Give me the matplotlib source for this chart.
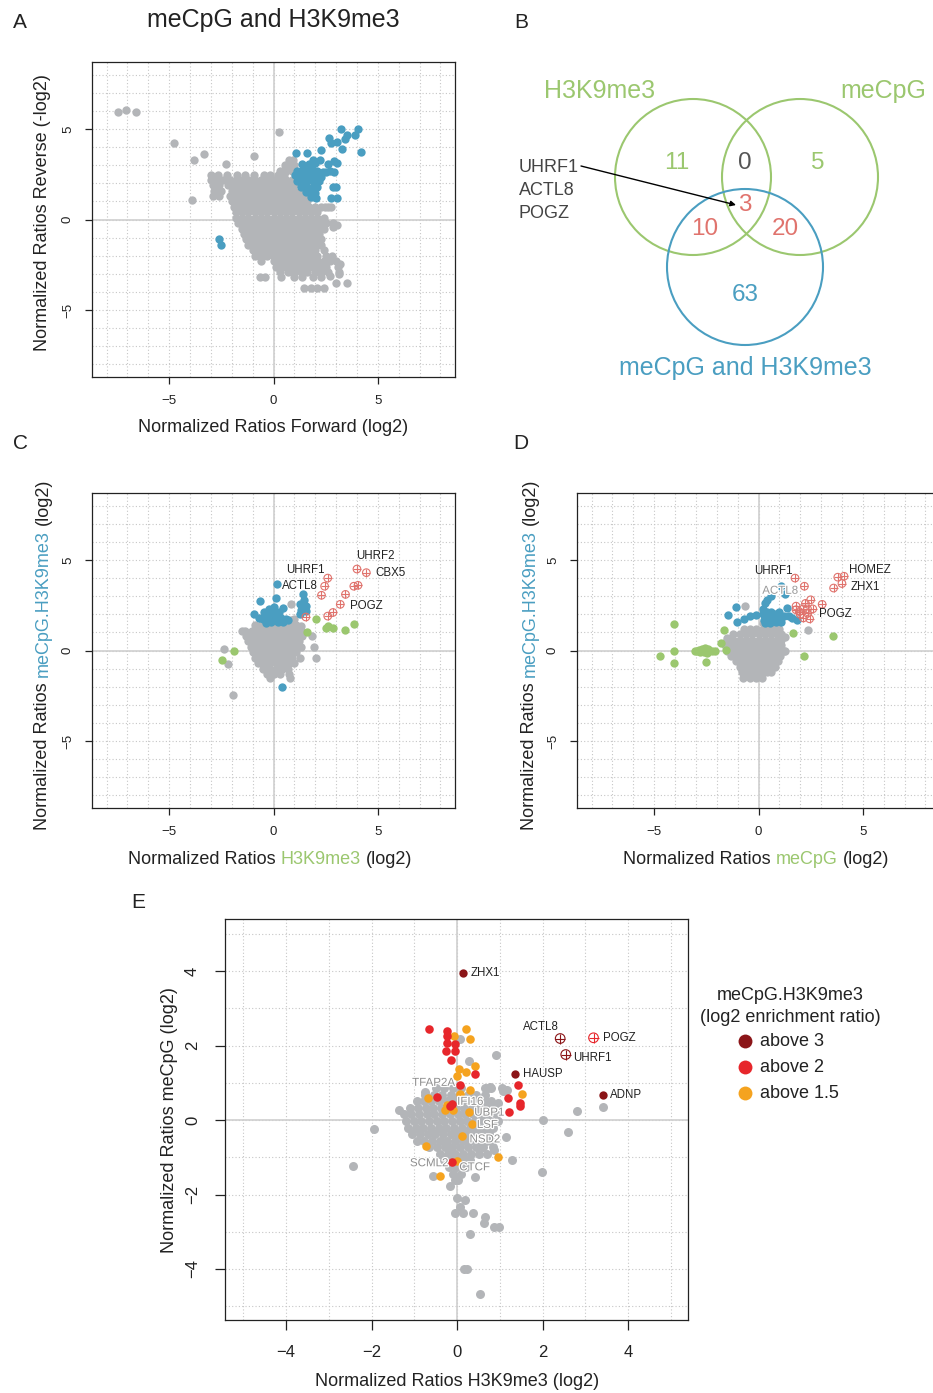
import matplotlib
matplotlib.use("Agg")
import matplotlib.pyplot as plt
import matplotlib.patheffects as pe
from matplotlib.patches import Circle

plt.rcParams["font.family"] = ["Liberation Sans", "DejaVu Sans"]

W, H = 933, 1393

GRAY = "#b3b5b8"
BLUE = "#4a9ec1"
GREEN = "#9bc76f"
RED = "#e0736d"
DARKRED = "#8b1518"
BRIGHT = "#e7262b"
ORANGE = "#f5a31f"
INK = "#222222"

# ---------------- panel A: forward vs reverse ----------------
a_gray_rows = [
    (3.3, [0.75, 0.95]),
    (3.0, [0.55, 0.8, 1.0]),
    (2.7, [0.3, 0.6, 0.9]),
    (2.45, [-3.0, -2.65, -2.25, -1.75, -1.35, -0.95, -0.45, -0.15, 0.2, 0.5]),
    (2.2, [-3.0, -2.7, -2.4, -2.1, -1.8, -1.5, -1.2, -0.9, -0.6, -0.3, 0.0, 0.3, 0.6, 0.9]),
    (1.9, [-2.9, -2.6, -2.2, -1.9, -1.6, -1.3, -1.0, -0.7, -0.4, -0.1, 0.2, 0.5, 0.8, 1.0]),
    (1.6, [-2.85, -2.5, -2.0, -1.7, -1.4, -1.1, -0.8, -0.5, -0.2, 0.1, 0.4, 0.7, 1.0, 1.3]),
    (1.3, [-2.9, -2.6, -2.1, -1.8, -1.5, -1.2, -0.9, -0.6, -0.3, 0.0, 0.3, 0.6, 0.9, 1.2, 1.5]),
    (1.0, [-2.0, -1.7, -1.4, -1.1, -0.8, -0.5, -0.2, 0.1, 0.4, 0.7, 1.0, 1.3, 1.6]),
    (0.7, [-1.9, -1.6, -1.3, -1.0, -0.7, -0.4, -0.1, 0.2, 0.5, 0.8, 1.1, 1.4, 1.7, 2.0, 2.3, 2.6]),
    (0.4, [-1.8, -1.5, -1.2, -0.9, -0.6, -0.3, 0.0, 0.3, 0.6, 0.9, 1.2, 1.5, 1.8, 2.1]),
    (0.1, [-1.8, -1.5, -1.2, -0.9, -0.6, -0.3, 0.0, 0.3, 0.6, 0.9, 1.2, 1.5, 1.8, 2.1, 2.4]),
    (-0.2, [-1.7, -1.4, -1.1, -0.8, -0.5, -0.2, 0.1, 0.4, 0.7, 1.0, 1.3, 1.6, 1.9, 2.2, 2.5, 2.85]),
    (-0.5, [-1.5, -1.2, -0.9, -0.6, -0.3, 0.0, 0.3, 0.6, 0.9, 1.2, 1.5, 1.8, 2.1, 2.4]),
    (-0.8, [-1.4, -1.1, -0.8, -0.5, -0.2, 0.1, 0.4, 0.7, 1.0, 1.3, 1.6, 1.9, 2.2]),
    (-1.1, [-1.3, -1.0, -0.7, -0.4, -0.1, 0.2, 0.5, 0.8, 1.1, 1.4, 1.7, 2.0, 2.3]),
    (-1.4, [-1.2, -0.9, -0.6, -0.3, 0.0, 0.3, 0.6, 0.9, 1.2, 1.5, 1.8, 2.1, 2.3]),
    (-1.7, [-1.0, -0.7, -0.4, -0.1, 0.2, 0.5, 0.8, 1.1, 1.4, 1.7, 2.0, 2.4]),
    (-2.0, [-0.9, -0.6, -0.3, 0.0, 0.3, 0.6, 0.9, 1.2, 1.5, 1.8, 2.1, 2.5, 2.8]),
    (-2.3, [-0.6, 0.0, 0.3, 0.6, 0.9, 1.2, 1.5, 1.8, 2.1, 2.4, 2.7, 3.0]),
    (-2.6, [0.1, 0.4, 0.7, 1.0, 1.3, 1.6, 1.9, 2.2, 2.5, 3.1]),
    (-2.9, [0.3, 0.7, 1.0, 1.3, 1.6, 2.0, 2.3, 2.6, 3.15]),
    (-3.2, [-0.65, -0.4, 0.35, 1.0, 1.35, 1.9, 2.3]),
    (-3.5, [3.0, 3.5]),
    (-3.8, [1.45, 1.8, 2.1, 2.4]),
]
a_gray_extra_x = [-7.45, -7.05, -6.6, -4.75, 0.25, -3.8, -3.35, -0.95, -2.3, -3.9, 2.85, 3.05, 3.2, 3.15, 2.7, 2.45, 2.75]
a_gray_extra_y = [5.95, 6.05, 5.95, 4.25, 4.85, 3.3, 3.6, 3.5, 3.05, 1.05, -0.4, -0.3, -2.45, -3.0, -3.1, 0.7, 0.7]
a_blue_x = [1.1, 1.6, 2.3, 2.65, 3.25, 3.5, 3.45, 3.05, 2.75, 3.3, 4.05, 3.9, 4.2, 1.9, 2.25, 2.6, 2.9,
            3.05, 2.7, 2.9, 2.5, 3.0, 2.85, 2.75, 3.05, 1.8, 2.05, 2.0, -2.6, -2.5,
            1.15, 1.4, 1.65, 1.85, 2.1, 2.35, 1.05, 1.3, 1.55, 1.8, 2.05, 2.3, 1.15, 1.45, 1.7,
            1.95, 2.2, 1.3, 1.6, 1.85, 2.1, 1.55, 1.8, 2.0, 1.7, 1.35]
a_blue_y = [3.65, 3.65, 3.85, 4.5, 5.0, 4.65, 4.45, 4.3, 4.2, 3.9, 5.0, 4.65, 3.75, 3.3, 3.3, 3.05, 3.25,
            3.1, 2.7, 2.65, 2.6, 1.8, 1.8, 1.2, 1.2, 1.25, 1.2, 1.45, -1.1, -1.4,
            2.7, 2.8, 2.7, 2.8, 2.7, 2.6, 2.45, 2.45, 2.35, 2.45, 2.35, 2.35, 2.1, 2.1, 2.2,
            2.0, 2.1, 1.8, 1.8, 1.7, 1.8, 1.5, 1.5, 3.1, 3.05, 3.05]

# ---------------- panel C: H3K9me3 vs meCpG.H3K9me3 ----------------
c_gray_rows = [
    (1.7, [-0.3, 0.0, 0.3, 0.6, 0.85]),
    (1.4, [-0.9, -0.6, -0.3, 0.0, 0.3, 0.6, 0.9, 1.1]),
    (1.1, [-1.35, -1.05, -0.8, -0.5, -0.2, 0.1, 0.4, 0.7, 1.0, 1.3]),
    (0.8, [-1.3, -1.0, -0.7, -0.4, -0.1, 0.2, 0.5, 0.8, 1.1, 1.35, 1.85]),
    (0.5, [-1.2, -0.9, -0.6, -0.3, 0.0, 0.3, 0.6, 0.9, 1.2]),
    (0.2, [-1.1, -0.8, -0.5, -0.2, 0.1, 0.4, 0.7, 1.0, 1.3, 1.95]),
    (-0.1, [-1.0, -0.7, -0.4, -0.1, 0.2, 0.5, 0.8, 1.1]),
    (-0.4, [-0.9, -0.6, -0.3, 0.0, 0.3, 0.6, 0.9, 1.25, 2.05]),
    (-0.7, [-0.75, -0.45, -0.15, 0.15, 0.45, 0.75, 1.0]),
    (-1.0, [-0.5, -0.2, 0.1, 0.4, 0.7]),
    (-1.3, [-0.3, 0.0, 0.3, 0.75]),
    (-1.5, [-0.15, 0.8]),
]
c_gray_extra_x = [-2.35, -2.2, -1.95, 0.85, 1.0, -1.5, 1.3]
c_gray_extra_y = [0.1, -0.75, -2.45, 2.55, 1.75, 1.05, 1.35]
c_blue_x = [0.15, -0.65, 0.1, 0.45, -0.95, -0.7, 1.4, 1.45, 1.25, 1.55, 1.25, 1.55, 0.4, -0.45, -0.2,
            0.0, -0.3, 0.0, 0.25, -0.5, -0.2, 0.1, 0.35, 0.6, -0.1, 0.2, 0.45, -0.35, 0.7, 1.3]
c_blue_y = [3.7, 2.75, 2.9, 2.35, 2.0, 1.8, 3.1, 2.8, 2.55, 2.45, 2.0, 2.2, -2.0, 2.1, 2.3,
            2.4, 1.95, 2.0, 2.1, 1.75, 1.7, 1.75, 1.8, 1.75, 1.55, 1.55, 1.55, 1.5, 1.7, 2.25]
c_red_x = [2.6, 2.45, 2.3, 1.55, 2.6, 2.85, 3.2, 3.45, 3.85, 4.05, 4.0, 4.45]
c_red_y = [4.0, 3.55, 3.05, 1.85, 1.9, 2.1, 2.55, 3.1, 3.55, 3.6, 4.5, 4.3]
c_green_x = [-1.9, -2.45, 2.05, 1.6, 2.5, 2.62, 2.85, 3.45, 3.85]
c_green_y = [0.0, -0.55, 1.75, 1.0, 1.25, 1.35, 1.25, 1.15, 1.45]
c_labels = ["UHRF1", "ACTL8", "UHRF2", "CBX5", "POGZ"]
c_label_xy = [(1.54, 4.45, "center"), (1.26, 3.57, "center"), (4.9, 5.24, "center"),
              (4.86, 4.3, "left"), (3.67, 2.44, "left")]

# ---------------- panel D: meCpG vs meCpG.H3K9me3 ----------------
d_gray_rows = [
    (1.5, [0.2, 0.5, 0.8]),
    (1.2, [-0.7, -0.4, -0.1, 0.2, 0.5, 0.8, 1.0]),
    (0.9, [-1.2, -0.9, -0.6, -0.3, 0.0, 0.3, 0.6, 0.9, 1.1]),
    (0.6, [-1.5, -1.2, -0.9, -0.6, -0.3, 0.0, 0.3, 0.6, 0.9, 1.1]),
    (0.3, [-1.6, -1.3, -1.0, -0.7, -0.4, -0.1, 0.2, 0.5, 0.8, 1.1]),
    (0.0, [-1.5, -1.2, -0.9, -0.6, -0.3, 0.0, 0.3, 0.6, 0.9, 1.2]),
    (-0.3, [-1.3, -1.0, -0.7, -0.4, -0.1, 0.2, 0.5, 0.8, 1.05]),
    (-0.6, [-1.1, -0.8, -0.5, -0.2, 0.1, 0.4, 0.7, 0.95]),
    (-0.9, [-0.9, -0.6, -0.3, 0.0, 0.3, 0.6, 0.8]),
    (-1.2, [-0.8, -0.5, -0.2, 0.1, 0.4, 0.6]),
    (-1.5, [-0.75, -0.4, -0.1, 0.15]),
]
d_gray_extra_x = [-0.65, 2.35, 1.25, 1.25, -1.5]
d_gray_extra_y = [2.45, 1.15, 0.75, -0.05, 0.7]
d_blue_x = [-1.1, -1.45, -1.05, -0.7, -0.4, -0.1, 0.4, 0.6, 1.1, 1.25, 0.3, 0.2, 1.35, 1.45, 1.6, 1.85,
            0.2, 0.4, 0.6, 0.8, 1.0, 0.25, 0.5, 0.75, 1.0, 0.3, 0.55, 0.85, 1.1, 1.2]
d_blue_y = [2.4, 1.95, 1.6, 1.75, 1.9, 1.95, 2.8, 3.0, 3.55, 3.1, 2.6, 2.3, 2.35, 1.9, 1.8, 1.7,
            2.0, 2.1, 2.15, 2.0, 2.1, 1.7, 1.75, 1.7, 1.75, 1.5, 1.5, 1.55, 1.6, 1.9]
d_red_x = [1.75, 2.2, 2.5, 2.25, 1.8, 1.8, 2.15, 2.35, 2.6, 3.05, 2.0, 2.35, 2.15, 2.45, 1.95,
           3.6, 3.8, 4.1, 4.0]
d_red_y = [4.0, 3.55, 2.8, 2.6, 2.45, 2.25, 2.3, 2.3, 2.3, 2.55, 2.0, 2.05, 1.8, 1.75, 2.15,
           3.45, 4.05, 4.1, 3.7]
d_green_x = [-4.05, -4.7, -4.05, -4.05, -2.5, -3.05, -2.85, -2.7, -2.55, -2.4, -2.6, -2.45, -2.25,
             -2.1, -2.8, -2.95, -1.8, -1.65, -1.55, 1.65, 2.2, 3.55]
d_green_y = [1.45, -0.3, -0.05, -0.7, -0.65, 0.0, 0.05, 0.1, 0.15, 0.1, -0.1, -0.15, -0.05,
             0.0, -0.1, -0.05, 0.4, 1.15, 0.05, 0.95, -0.3, 0.8]
d_labels = ["UHRF1", "ACTL8", "HOMEZ", "ZHX1", "POGZ"]
d_label_xy = [(0.72, 4.4, "center"), (1.04, 3.3, "center"), (4.33, 4.45, "left"),
              (4.41, 3.53, "left"), (2.88, 2.01, "left")]

# ---------------- panel E: H3K9me3 vs meCpG ----------------
e_gray_rows = [
    (0.85, [-0.5, -0.3, -0.1, 0.1, 0.65, 0.8, 1.05]),
    (0.68, [-0.75, -0.55, -0.35, -0.15, 0.05, 0.25, 0.45, 0.65]),
    (0.5, [-0.95, -0.78, -0.6, -0.42, -0.24, -0.06, 0.12, 0.3, 0.48, 0.66, 0.8]),
    (0.33, [-1.1, -0.92, -0.74, -0.56, -0.38, -0.2, -0.02, 0.16, 0.34, 0.52, 0.7, 0.85]),
    (0.15, [-1.25, -1.07, -0.89, -0.71, -0.53, -0.35, -0.17, 0.01, 0.19, 0.37, 0.55, 0.73, 0.9]),
    (-0.03, [-1.2, -1.02, -0.84, -0.66, -0.48, -0.3, -0.12, 0.06, 0.24, 0.42, 0.6, 0.78, 0.95]),
    (-0.2, [-1.15, -0.97, -0.79, -0.61, -0.43, -0.25, -0.07, 0.11, 0.29, 0.47, 0.65, 0.83]),
    (-0.38, [-1.05, -0.87, -0.69, -0.51, -0.33, -0.15, 0.03, 0.21, 0.39, 0.57, 0.75]),
    (-0.55, [-0.95, -0.77, -0.59, -0.41, -0.23, -0.05, 0.13, 0.31, 0.49, 0.67, 0.8]),
    (-0.73, [-0.65, -0.47, -0.29, -0.11, 0.07, 0.25, 0.43, 0.61, 0.85]),
    (-0.9, [-0.4, -0.22, -0.04, 0.14, 0.32, 0.5, 0.7]),
    (-1.08, [-0.3, -0.12, 0.06, 0.24]),
    (-1.25, [-0.2, -0.02, 0.2]),
    (-1.45, [-0.1, 0.1]),
]
e_gray_extra_x = [-1.35, -1.95, -2.43, -0.57, -0.16, -0.05, 0.03, 0.42, 0.3, 0.0, 0.19, 0.07, -0.05,
                  0.13, 0.36, 0.65, 0.63, 0.87, 0.99, 0.3, 0.15, 0.23, 0.54, 1.29, 1.99, 2.02, 2.6,
                  2.81, 1.14, 0.87, 0.73, 1.08, 1.16, 0.91, 0.27, 0.07, 0.77, 1.1, 3.42, -0.75, 0.95]
e_gray_extra_y = [0.27, -0.25, -1.23, -1.5, -1.77, -1.6, -1.62, -1.52, -1.07, -2.1, -2.15, -2.33, -2.49,
                  -2.5, -2.49, -2.61, -2.77, -2.88, -2.88, -3.06, -4.01, -4.01, -4.67, -1.06, -1.39, 0.0, -0.33,
                  0.24, -0.45, -0.81, 0.85, 0.79, 0.82, 1.76, 1.58, 2.19, 0.9, 0.8, 0.36, 0.75, 0.45]
e_red_x = [-0.65, -0.24, -0.23, -0.24, -0.27, -0.05, -0.05, -0.14, 0.42, 0.07, -0.46, -0.12, -0.16,
           1.43, 1.2, 1.46, 1.47, 1.21, -0.11]
e_red_y = [2.44, 2.4, 2.26, 2.06, 1.86, 2.03, 1.85, 1.61, 1.23, 0.94, 0.63, 0.43, 0.38,
           0.93, 0.59, 0.47, 0.38, 0.21, -1.12]
e_orange_x = [0.2, -0.07, 0.3, 0.42, 0.05, -0.01, 0.21, 0.3, -0.67, -0.28, -0.09, 0.27, 0.34, 0.11,
              -0.72, 0.95, 1.51, -0.01, -0.4, 0.07, -0.24]
e_orange_y = [2.44, 2.25, 2.19, 1.45, 1.36, 1.18, 1.28, 0.82, 0.58, 0.27, 0.27, 0.22, -0.11, -0.43,
              -0.69, -0.98, 0.7, -1.09, -1.49, 0.69, 0.4]
e_dark_x = [0.13, 1.36, 3.42]
e_dark_y = [3.96, 1.23, 0.66]
e_dark_names = ["ZHX1", "HAUSP", "ADNP"]
e_plus_x = [2.41, 2.54, 3.19]
e_plus_y = [2.19, 1.76, 2.21]
e_plus_names = ["ACTL8", "UHRF1", "POGZ"]
e_plus_colors = [DARKRED, DARKRED, BRIGHT]
e_plus_label_xy = [(1.96, 2.5, "center"), (2.72, 1.66, "left"), (3.41, 2.21, "left")]
e_dark_label_xy = [(0.32, 3.96, "left"), (1.53, 1.23, "left"), (3.58, 0.66, "left")]
e_faint_names = ["TFAP2A", "IFI16", "UBP1", "LSF", "NSD2", "SCML2", "CTCF"]
e_faint_xy = [(-0.05, 1.0, "right"), (0.0, 0.49, "left"), (0.4, 0.2, "left"), (0.46, -0.13, "left"),
              (0.29, -0.52, "left"), (-0.2, -1.16, "right"), (0.05, -1.27, "left")]
legend_labels = ["above 3", "above 2", "above 1.5"]
legend_colors = [DARKRED, BRIGHT, ORANGE]

# ---------------- panel B: Venn counts ----------------
venn_sets = ["H3K9me3", "meCpG", "meCpG and H3K9me3"]
venn_counts = ["11", "0", "5", "3", "10", "20", "63"]
venn_genes = ["UHRF1", "ACTL8", "POGZ"]


def unroll(rows):
    xs, ys = [], []
    for y, row in rows:
        xs += row
        ys += [y] * len(row)
    return xs, ys


fig = plt.figure(figsize=(W / 100, H / 100), dpi=100)


def add_ax(l, t, r, b):
    return fig.add_axes([l / W, 1 - b / H, (r - l) / W, (b - t) / H])


def ftxt(x, y, s, **kw):
    kw.setdefault("color", INK)
    return fig.text(x / W, 1 - y / H, s, **kw)


def frame(ax, xlim, ylim, major, minor, fs, tlen, pad):
    ax.set_xlim(*xlim)
    ax.set_ylim(*ylim)
    ax.set_xticks(major)
    ax.set_yticks(major)
    ax.set_xticks(minor, minor=True)
    ax.set_yticks(minor, minor=True)
    ax.set_axisbelow(True)
    ax.grid(which="both", ls=(0, (1, 2)), color="#c6c6c6", lw=0.8)
    ax.axhline(0, color="#cfcfcf", lw=1.2, zorder=1)
    ax.axvline(0, color="#cfcfcf", lw=1.2, zorder=1)
    ax.tick_params(which="minor", length=0)
    ax.tick_params(which="major", length=tlen, width=0.9, labelsize=fs, pad=pad,
                   color=INK, labelcolor=INK)
    ax.tick_params(axis="y", labelrotation=90)
    for lab in ax.get_yticklabels():
        lab.set_va("center")
    for sp in ax.spines.values():
        sp.set_linewidth(0.9)
        sp.set_color(INK)


def dots(ax, x, y, color, s=36):
    ax.scatter(x, y, s=s, c=color, linewidths=0, zorder=3)


def oplus(ax, x, y, color, s=30):
    ax.scatter(x, y, s=s, facecolors="none", edgecolors=color, linewidths=0.8, zorder=4)
    ax.scatter(x, y, s=s, marker="+", c=color, linewidths=0.8, zorder=4)


ov = fig.add_axes([0, 0, 1, 1])
ov.set_xlim(0, W)
ov.set_ylim(H, 0)
ov.axis("off")


def rich(x, y, parts, size, vertical=False):
    gap = size * 0.278
    if not vertical:
        t = ftxt(x, y, parts[0][0], color=parts[0][1], fontsize=size, ha="left", va="center")
        for s, c in parts[1:]:
            t = ov.annotate(s, xy=(1, 0), xycoords=t, xytext=(gap, 0), textcoords="offset points",
                            color=c, fontsize=size, ha="left", va="bottom")
    else:
        t = ftxt(x, y, parts[0][0], color=parts[0][1], fontsize=size, ha="center", va="bottom",
                 rotation=90)
        for s, c in parts[1:]:
            t = ov.annotate(s, xy=(0.5, 1), xycoords=t, xytext=(0, gap), textcoords="offset points",
                            color=c, fontsize=size, ha="center", va="bottom", rotation=90)


LIM = (-8.7, 8.7)
MAJ = [-5, 0, 5]
MIN = list(range(-8, 9))

# ---- A ----
axA = add_ax(92, 62, 455, 377)
frame(axA, LIM, LIM, MAJ, MIN, 9.5, 5, 8)
gx, gy = unroll(a_gray_rows)
dots(axA, gx + a_gray_extra_x, gy + a_gray_extra_y, GRAY)
dots(axA, a_blue_x, a_blue_y, BLUE)
ftxt(273, 20, "meCpG and H3K9me3", fontsize=18, ha="center", va="center")
ftxt(273, 428, "Normalized Ratios Forward (log2)", fontsize=13, ha="center", va="center")
ftxt(43, 213, "Normalized Ratios Reverse (-log2)", fontsize=13, ha="center", va="center", rotation=90)

# ---- C ----
axC = add_ax(92, 493, 455, 808)
frame(axC, LIM, LIM, MAJ, MIN, 9.5, 5, 8)
gx, gy = unroll(c_gray_rows)
dots(axC, gx + c_gray_extra_x, gy + c_gray_extra_y, GRAY)
dots(axC, c_green_x, c_green_y, GREEN)
dots(axC, c_blue_x, c_blue_y, BLUE)
oplus(axC, c_red_x, c_red_y, RED)
for name, (lx, ly, ha) in zip(c_labels, c_label_xy):
    axC.text(lx, ly, name, fontsize=8.3, ha=ha, va="center", color=INK, zorder=5)
rich(128, 860, [("Normalized Ratios", INK), ("H3K9me3", GREEN), ("(log2)", INK)], 13)
rich(43, 830, [("Normalized Ratios", INK), ("meCpG.H3K9me3", BLUE), ("(log2)", INK)], 13, True)

# ---- D ----
axD = add_ax(577, 493, 940, 808)
frame(axD, LIM, LIM, MAJ, MIN, 9.5, 5, 8)
gx, gy = unroll(d_gray_rows)
dots(axD, gx + d_gray_extra_x, gy + d_gray_extra_y, GRAY)
dots(axD, d_green_x, d_green_y, GREEN)
dots(axD, d_blue_x, d_blue_y, BLUE)
oplus(axD, d_red_x, d_red_y, RED)
for name, (lx, ly, ha) in zip(d_labels, d_label_xy):
    if name == "ACTL8":
        axD.text(lx, ly, name, fontsize=8.3, ha=ha, va="center", color="#9a9a9a", zorder=5,
                 path_effects=[pe.withStroke(linewidth=1.8, foreground="white")])
    else:
        axD.text(lx, ly, name, fontsize=8.3, ha=ha, va="center", color=INK, zorder=5)
rich(623, 860, [("Normalized Ratios", INK), ("meCpG", GREEN), ("(log2)", INK)], 13)
rich(530, 830, [("Normalized Ratios", INK), ("meCpG.H3K9me3", BLUE), ("(log2)", INK)], 13, True)

# ---- E ----
axE = add_ax(225, 919, 688, 1320)
frame(axE, (-5.43, 5.4), (-5.37, 5.4), [-4, -2, 0, 2, 4], list(range(-5, 6)), 12, 7, 11)
gx, gy = unroll(e_gray_rows)
dots(axE, gx + e_gray_extra_x, gy + e_gray_extra_y, GRAY, s=42)
dots(axE, e_orange_x, e_orange_y, ORANGE, s=38)
dots(axE, e_red_x, e_red_y, BRIGHT, s=38)
dots(axE, e_dark_x, e_dark_y, DARKRED, s=36)
for px_, py_, col in zip(e_plus_x, e_plus_y, e_plus_colors):
    oplus(axE, [px_], [py_], col, s=48)
for name, (lx, ly, ha) in zip(e_dark_names + e_plus_names, e_dark_label_xy + e_plus_label_xy):
    axE.text(lx, ly, name, fontsize=8.3, ha=ha, va="center", color=INK, zorder=5)
for name, (lx, ly, ha) in zip(e_faint_names, e_faint_xy):
    axE.text(lx, ly, name, fontsize=8.3, ha=ha, va="center", color="#8e8e8e", zorder=5,
             path_effects=[pe.withStroke(linewidth=1.8, foreground="white")])
ftxt(457, 1382, "Normalized Ratios H3K9me3 (log2)", fontsize=13, ha="center", va="center")
ftxt(170, 1120, "Normalized Ratios meCpG (log2)", fontsize=13, ha="center", va="center", rotation=90)

# legend for E
ftxt(790, 995, "meCpG.H3K9me3", fontsize=13, ha="center", va="center")
ftxt(790, 1017, "(log2 enrichment ratio)", fontsize=13, ha="center", va="center")
for i, (lab, col) in enumerate(zip(legend_labels, legend_colors)):
    yy = 1041 + 26 * i
    ov.scatter([745], [yy], s=100, c=col, linewidths=0)
    ftxt(760, yy, lab, fontsize=13, ha="left", va="center")

# ---- B: Venn ----
circles = [((693, 177), GREEN), ((800, 177), GREEN), ((745, 267), BLUE)]
for (cx, cy), col in circles:
    ov.add_patch(Circle((cx, cy), 78, fill=False, ec=col, lw=1.5))
set_pos = [(600, 91), (883, 91), (745, 368)]
set_cols = [GREEN, GREEN, BLUE]
for name, (tx, ty), col in zip(venn_sets, set_pos, set_cols):
    ftxt(tx, ty, name, fontsize=18, ha="center", va="center", color=col)
count_pos = [(677, 163), (745, 163), (818, 163), (745, 205), (705, 229), (785, 229), (745, 295)]
count_cols = [GREEN, "#555555", GREEN, RED, RED, RED, BLUE]
for s, (tx, ty), col in zip(venn_counts, count_pos, count_cols):
    ftxt(tx, ty, s, fontsize=17.5, ha="center", va="center", color=col)
for i, g in enumerate(venn_genes):
    ftxt(519, 168 + 22.5 * i, g, fontsize=13, ha="left", va="center", color="#444444")
ov.annotate("", xy=(736, 205), xytext=(581, 166),
            arrowprops=dict(arrowstyle="-|>", color="black", lw=1, mutation_scale=8,
                            shrinkA=0, shrinkB=0))

# panel letters
for letter, (lx, ly) in zip("ABCDE", [(20, 23), (521, 23), (20, 444), (521, 444), (138, 903)]):
    ftxt(lx, ly, letter, fontsize=15, ha="center", va="center")

fig.savefig("out.png", dpi=100)
